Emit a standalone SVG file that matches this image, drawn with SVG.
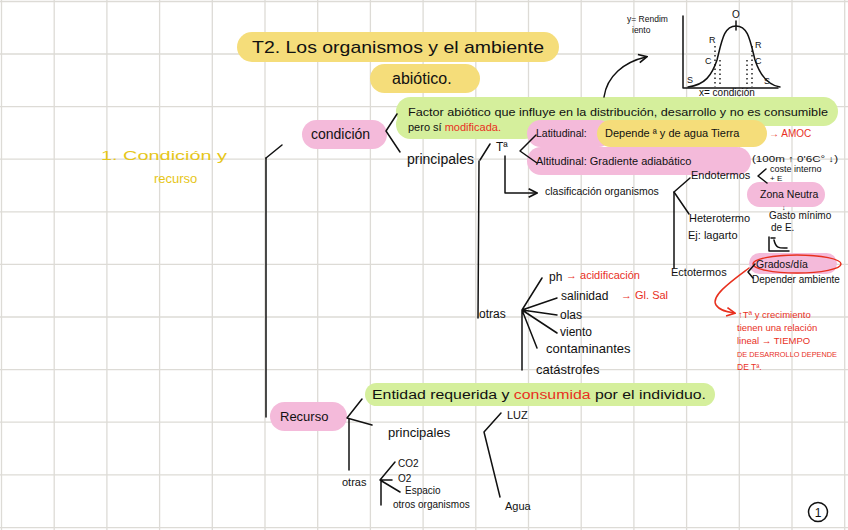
<svg xmlns="http://www.w3.org/2000/svg" width="848" height="530" viewBox="0 0 848 530">
<defs>
<style>
.grid line{stroke:#dddbd6;stroke-width:1.3}
text{font-family:"Liberation Sans","DejaVu Sans",sans-serif;fill:#111}
.red{fill:#e8301e}
.yt{fill:#e6c619}
.pink{fill:#f4bada}
.green{fill:#d5ef9c}
.yellow{fill:#f5dd7a}
.ln{stroke:#111;stroke-width:1.5;fill:none;stroke-linecap:round;stroke-linejoin:round}
.rl{stroke:#e8301e;stroke-width:1.5;fill:none;stroke-linecap:round}
</style>
<marker id="ah" viewBox="0 0 10 10" refX="8" refY="5" markerWidth="7" markerHeight="7" orient="auto"><path d="M1,1 L9,5 L1,9" fill="none" stroke="#111" stroke-width="1.6"/></marker>
<marker id="ahr" viewBox="0 0 10 10" refX="8" refY="5" markerWidth="7" markerHeight="7" orient="auto"><path d="M1,1 L9,5 L1,9" fill="none" stroke="#e8301e" stroke-width="1.6"/></marker>
</defs>
<rect width="848" height="530" fill="#fff"/>
<g class="grid">
<line x1="1.5" y1="0" x2="1.5" y2="530"/><line x1="54.2" y1="0" x2="54.2" y2="530"/><line x1="106.9" y1="0" x2="106.9" y2="530"/><line x1="159.6" y1="0" x2="159.6" y2="530"/><line x1="212.3" y1="0" x2="212.3" y2="530"/><line x1="265" y1="0" x2="265" y2="530"/><line x1="317.7" y1="0" x2="317.7" y2="530"/><line x1="370.4" y1="0" x2="370.4" y2="530"/><line x1="423.1" y1="0" x2="423.1" y2="530"/><line x1="475.8" y1="0" x2="475.8" y2="530"/><line x1="528.5" y1="0" x2="528.5" y2="530"/><line x1="581.2" y1="0" x2="581.2" y2="530"/><line x1="633.9" y1="0" x2="633.9" y2="530"/><line x1="686.6" y1="0" x2="686.6" y2="530"/><line x1="739.3" y1="0" x2="739.3" y2="530"/><line x1="792" y1="0" x2="792" y2="530"/><line x1="844.7" y1="0" x2="844.7" y2="530"/>
<line x1="0" y1="1.5" x2="848" y2="1.5"/><line x1="0" y1="54" x2="848" y2="54"/><line x1="0" y1="106.6" x2="848" y2="106.6"/><line x1="0" y1="159.2" x2="848" y2="159.2"/><line x1="0" y1="211.8" x2="848" y2="211.8"/><line x1="0" y1="264.4" x2="848" y2="264.4"/><line x1="0" y1="317" x2="848" y2="317"/><line x1="0" y1="369.6" x2="848" y2="369.6"/><line x1="0" y1="422.2" x2="848" y2="422.2"/><line x1="0" y1="474.8" x2="848" y2="474.8"/><line x1="0" y1="527.6" x2="848" y2="527.6"/>
</g>

<g id="title">
<rect class="yellow" x="237" y="32" width="322" height="30" rx="15"/>
<text x="252" y="53" font-size="17" textLength="292" lengthAdjust="spacingAndGlyphs">T2. Los organismos y el ambiente</text>
<rect class="yellow" x="370" y="64" width="110" height="29" rx="14.5"/>
<text x="392" y="84" font-size="16">abiótico.</text>
</g>

<g id="section-heading">
<text class="yt" x="101" y="160" font-size="13" textLength="126" lengthAdjust="spacingAndGlyphs">1. Condición y</text>
<text class="yt" x="154" y="183" font-size="13">recurso</text>
</g>

<g id="graph">
<path class="ln" d="M683,16 L683,88 L778,88"/>
<path class="ln" d="M688,87 C705,85 712,75 717,60 C722,40 724,26 736,26 C748,26 750,40 755,60 C760,75 767,85 780,87"/>
<line class="ln" x1="736" y1="21" x2="736" y2="30"/>
<path d="M715,46 V87 M720,60 V87 M747,60 V87 M752,46 V87" stroke="#111" stroke-width="1.4" stroke-dasharray="1.5,3" fill="none"/>
<text x="736" y="18" font-size="10" text-anchor="middle">O</text>
<text x="709" y="43" font-size="9">R</text>
<text x="705" y="64" font-size="9">C</text>
<text x="687" y="83" font-size="9">S</text>
<text x="755" y="48" font-size="9">R</text>
<text x="755" y="64" font-size="9">C</text>
<text x="764" y="84" font-size="9">S</text>
<text x="627" y="22" font-size="8.5">y= Rendim</text>
<text x="632" y="33" font-size="8.5">iento</text>
<text x="699" y="96" font-size="10">x= condición</text>
</g>

<g id="condicion">
<rect class="pink" x="302" y="120" width="85" height="29" rx="14.5"/>
<text x="311" y="139" font-size="14">condición</text>
</g>

<g id="def-condicion">
<rect class="green" x="396" y="97" width="442" height="29" rx="14.5"/>
<rect class="green" x="396" y="110" width="143" height="29" rx="14.5"/>
<text x="408" y="116" font-size="11" textLength="420" lengthAdjust="spacingAndGlyphs">Factor abiótico que influye en la distribución, desarrollo y no es consumible</text>
<text x="408" y="131" font-size="11">pero sí <tspan class="red">modificada.</tspan></text>
</g>

<g id="principales1"><text x="407" y="164" font-size="14">principales</text></g>
<g id="temp"><text x="496" y="151" font-size="12">Tª</text></g>

<g id="latitudinal">
<rect class="pink" x="527" y="120" width="85" height="27" rx="13.5"/>
<rect class="yellow" x="597" y="120" width="170" height="27" rx="13.5"/>
<text x="536" y="137" font-size="10.5">Latitudinal:</text>
<text x="605" y="137" font-size="11">Depende ª y de agua Tierra</text>
<text class="red" x="769" y="137" font-size="10">→ AMOC</text>
</g>

<g id="altitudinal">
<rect class="pink" x="527" y="147" width="224" height="28" rx="14"/>
<text x="536" y="165" font-size="11">Altitudinal: Gradiente adiabático</text>
<text x="752" y="162" font-size="9" textLength="86" lengthAdjust="spacingAndGlyphs">(100m ↑ 0'6C° ↓)</text>
</g>

<g id="clasificacion"><text x="545" y="195" font-size="10.5">clasificación organismos</text></g>

<g id="endotermos">
<text x="691" y="179" font-size="11">Endotermos</text>
<text x="770" y="172" font-size="9">coste interno</text>
<text x="770" y="181" font-size="8">+ E</text>
<rect class="pink" x="747" y="182" width="78" height="25" rx="12.5"/>
<text x="760" y="198" font-size="10.5">Zona Neutra</text>
<text x="782" y="210" font-size="7">↓</text>
<text x="769" y="219" font-size="10">Gasto mínimo</text>
<text x="771" y="231" font-size="10">de E.</text>
<path class="ln" d="M769,237 V251 H789 M771,238 H775 M774,240 C776,249 780,248 787,248" stroke-width="1.3"/>
</g>

<g id="heterotermo">
<text x="689" y="222" font-size="11">Heterotermo</text>
<text x="688" y="239" font-size="11">Ej: lagarto</text>
</g>

<g id="ectotermos">
<text x="671" y="276" font-size="11">Ectotermos</text>
<rect class="pink" x="749" y="253" width="88" height="21" rx="10.5"/>
<ellipse cx="797" cy="264" rx="44" ry="9" fill="none" stroke="#e8301e" stroke-width="1.5"/>
<text x="756" y="268" font-size="10.5">Grados/día</text>
<text x="752" y="283" font-size="10">Depender ambiente</text>
</g>

<g id="nota-ecto">
<text class="red" x="738" y="318" font-size="9.5">↑Tª y crecimiento</text>
<text class="red" x="737" y="331" font-size="9.5">tienen una relación</text>
<text class="red" x="737" y="344" font-size="9.5">lineal → TIEMPO</text>
<text class="red" x="737" y="357" font-size="8" textLength="100" lengthAdjust="spacingAndGlyphs">DE DESARROLLO DEPENDE</text>
<text class="red" x="737" y="370" font-size="8.5">DE Tª.</text>
</g>

<g id="otras1">
<text x="479" y="318" font-size="12">otras</text>
<text x="549" y="281" font-size="12">ph</text>
<text class="red" x="566" y="279" font-size="11">→ acidificación</text>
<text x="561" y="300" font-size="12">salinidad</text>
<text class="red" x="621" y="299" font-size="11">→ Gl. Sal</text>
<text x="560" y="319" font-size="12">olas</text>
<text x="560" y="336" font-size="12">viento</text>
<text x="546" y="353" font-size="13">contaminantes</text>
<text x="536" y="374" font-size="13">catástrofes</text>
</g>

<g id="recurso">
<rect class="pink" x="270" y="402" width="77" height="29" rx="14.5"/>
<text x="280" y="421" font-size="13">Recurso</text>
</g>

<g id="def-recurso">
<rect class="green" x="365" y="383" width="350" height="23" rx="11.5"/>
<text x="372" y="399" font-size="12" textLength="334" lengthAdjust="spacingAndGlyphs">Entidad requerida y <tspan class="red">consumida</tspan> por el individuo.</text>
</g>

<g id="principales2">
<text x="388" y="437" font-size="13">principales</text>
<text x="507" y="419" font-size="11">LUZ</text>
<text x="505" y="510" font-size="11">Agua</text>
</g>

<g id="otras2">
<text x="342" y="486" font-size="11">otras</text>
<text x="398" y="467" font-size="10">CO2</text>
<text x="398" y="482" font-size="10">O2</text>
<text x="405" y="494" font-size="10">Espacio</text>
<text x="393" y="508" font-size="10">otros organismos</text>
</g>

<g id="page-number">
<circle cx="818" cy="512" r="9.5" fill="none" stroke="#111" stroke-width="1.5"/>
<text x="818" y="516.5" font-size="12" text-anchor="middle">1</text>
</g>

<g id="connectors">
<path class="ln" d="M266,158 L282,145"/>
<path class="ln" d="M266,158 L266,417"/>
<path class="ln" d="M397,114 L386,131 L400,152"/>
<path class="ln" d="M480,160 L490,144"/>
<path class="ln" d="M479,161 L478,318"/>
<path class="ln" d="M536,135 L520,151 L537,163"/>
<path class="ln" d="M505,156 L505,193 L536,193" marker-end="url(#ah)"/>
<path class="ln" d="M604,97 C607,76 624,62 646,57" marker-end="url(#ah)"/>
<path class="ln" d="M690,178 L674,192 L689,214"/>
<path class="ln" d="M674,192 L674,268"/>
<path class="ln" d="M766,169 L758,176 L767,183"/>
<path class="ln" d="M755,264 L748,272 L753,278"/>
<path class="rl" d="M749,268 C733,280 710,296 716,305 C720,311 728,312 734,313" marker-end="url(#ahr)"/>
<path class="ln" d="M542,278 L522,310 L557,298 M522,310 L557,315 M522,310 L557,333 M522,310 L537,348 M522,310 L522,370"/>
<path class="ln" d="M362,399 L347,418 L372,425"/>
<path class="ln" d="M349,419 L349,470"/>
<path class="ln" d="M501,413 L484,432 L500,497"/>
<path class="ln" d="M395,462 L380,480 L392,480 M380,480 L400,492 M381,480 L381,505"/>
</g>
</svg>
